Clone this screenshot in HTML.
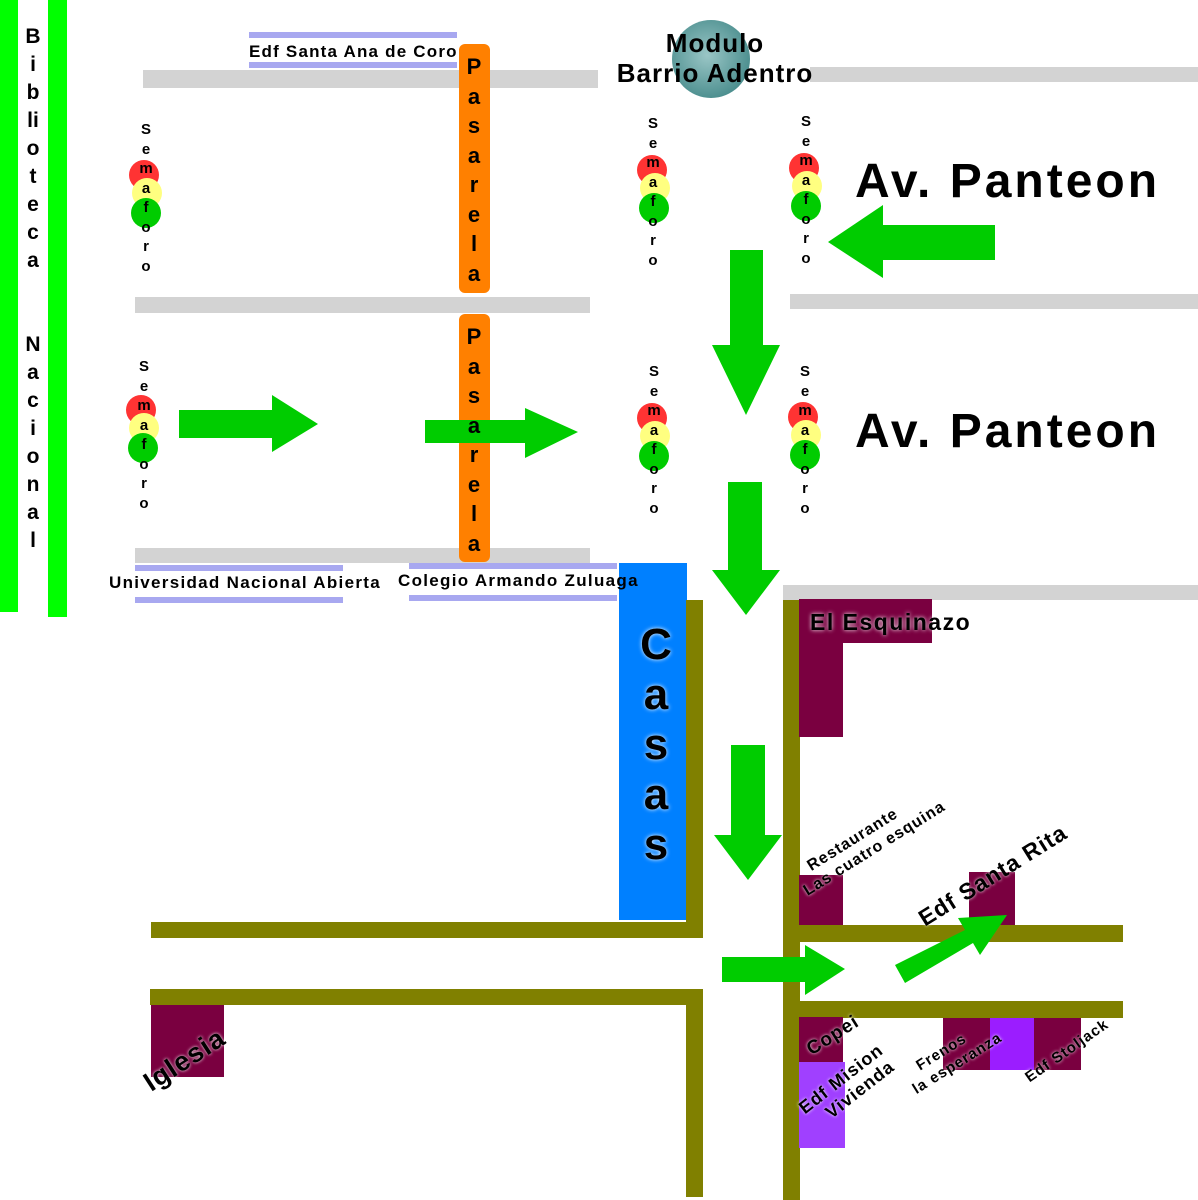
<!DOCTYPE html>
<html><head><meta charset="utf-8"><style>
body{margin:0;width:1198px;height:1200px;background:#fff;position:relative;overflow:hidden;font-family:"Liberation Sans",sans-serif;font-weight:bold;color:#000}
.r{position:absolute}
.g{background:#d3d3d3}
.o{background:#808000}
.m{background:#7a0040}
.p{background:#9b1dff}
.l{background:#a8a8f0}
.t{position:absolute;white-space:nowrap}
.v{position:absolute;text-align:center;font-size:21px;line-height:28px;width:20px}
.sem{position:absolute;width:20px;text-align:center;font-size:15px;line-height:19.5px}
.c{position:absolute;border-radius:50%;width:30px;height:30px}
</style></head><body>
<div class="r" style="left:0;top:0;width:18px;height:612px;background:#00ff00"></div>
<div class="r" style="left:48px;top:0;width:19px;height:617px;background:#00ff00"></div>
<div class="v" style="left:23px;top:23px">B<br>i<br>b<br>li<br>o<br>t<br>e<br>c<br>a</div>
<div class="v" style="left:23px;top:331px">N<br>a<br>c<br>i<br>o<br>n<br>a<br>l</div>
<div class="r g" style="left:143px;top:70px;width:455px;height:18px"></div>
<div class="r g" style="left:810px;top:67px;width:388px;height:15px"></div>
<div class="r g" style="left:135px;top:297px;width:455px;height:16px"></div>
<div class="r g" style="left:790px;top:294px;width:408px;height:15px"></div>
<div class="r g" style="left:135px;top:548px;width:455px;height:15px"></div>
<div class="r g" style="left:783px;top:585px;width:415px;height:15px"></div>
<div class="r l" style="left:249px;top:32px;width:208px;height:6px"></div>
<div class="r l" style="left:249px;top:62px;width:208px;height:6px"></div>
<div class="t" style="left:249px;top:42px;font-size:17px;letter-spacing:1.2px">Edf Santa Ana de Coro</div>
<div class="r l" style="left:135px;top:565px;width:208px;height:6px"></div>
<div class="r l" style="left:135px;top:597px;width:208px;height:6px"></div>
<div class="t" style="left:109px;top:573px;font-size:17px;letter-spacing:1.3px">Universidad Nacional Abierta</div>
<div class="r l" style="left:409px;top:563px;width:208px;height:6px"></div>
<div class="r l" style="left:409px;top:595px;width:208px;height:6px"></div>
<div class="r" style="left:459px;top:44px;width:31px;height:249px;background:#ff8000;border-radius:6px"></div>
<div class="v" style="left:464px;top:52px;font-size:22px;line-height:29.5px">P<br>a<br>s<br>a<br>r<br>e<br>l<br>a</div>
<div class="r" style="left:459px;top:314px;width:31px;height:248px;background:#ff8000;border-radius:6px"></div>
<div class="r" style="left:619px;top:563px;width:68px;height:357px;background:#0080ff"></div>
<div class="t" style="left:398px;top:571px;font-size:17px;letter-spacing:1.3px">Colegio Armando Zuluaga</div>
<div class="v" style="left:636px;top:620px;width:40px;font-size:44px;line-height:50px;color:#000;text-shadow:0 0 4px #fff">C<br>a<br>s<br>a<br>s</div>
<div class="r" style="left:672px;top:20px;width:78px;height:78px;border-radius:50%;background:radial-gradient(circle at 45% 45%,#9ac6c6,#2f7a7a)"></div>
<div class="t" style="left:600px;top:28px;width:230px;text-align:center;font-size:26px;line-height:30px;letter-spacing:1px">Modulo<br>Barrio Adentro</div>
<div class="r o" style="left:686px;top:600px;width:17px;height:338px"></div>
<div class="r o" style="left:151px;top:922px;width:552px;height:16px"></div>
<div class="r o" style="left:150px;top:989px;width:553px;height:16px"></div>
<div class="r o" style="left:686px;top:989px;width:17px;height:208px"></div>
<div class="r o" style="left:783px;top:600px;width:17px;height:600px"></div>
<div class="r o" style="left:783px;top:925px;width:340px;height:17px"></div>
<div class="r o" style="left:783px;top:1001px;width:340px;height:17px"></div>
<div class="r m" style="left:799px;top:599px;width:133px;height:44px"></div>
<div class="r m" style="left:799px;top:599px;width:44px;height:138px"></div>
<div class="r m" style="left:799px;top:875px;width:44px;height:50px"></div>
<div class="r m" style="left:969px;top:872px;width:46px;height:53px"></div>
<div class="r m" style="left:799px;top:1017px;width:44px;height:45px"></div>
<div class="r p" style="left:799px;top:1062px;width:46px;height:86px;background:#a040ff"></div>
<div class="r m" style="left:943px;top:1018px;width:47px;height:52px"></div>
<div class="r p" style="left:990px;top:1018px;width:44px;height:52px"></div>
<div class="r m" style="left:1034px;top:1018px;width:47px;height:52px"></div>
<div class="r m" style="left:151px;top:1005px;width:73px;height:72px"></div>
<div class="t" style="left:810px;top:609px;font-size:23px;letter-spacing:1.5px;text-shadow:0 0 4px #fff">El Esquinazo</div>
<div class="t" style="left:790px;top:868px;font-size:16px;line-height:19px;letter-spacing:1px;transform:rotate(-32deg);transform-origin:left top;text-shadow:0 0 3px #fff">&nbsp;&nbsp;&nbsp;Restaurante<br>Las cuatro esquina</div>
<div class="t" style="left:928px;top:905px;font-size:23px;letter-spacing:1px;transform:rotate(-32deg);transform-origin:left bottom;text-shadow:0 0 3px #fff">Edf Santa Rita</div>
<div class="t" style="left:803px;top:1042px;font-size:19px;letter-spacing:1px;transform:rotate(-32deg);transform-origin:left top;text-shadow:0 0 3px #fff">Copei</div>
<div class="t" style="left:795px;top:1102px;font-size:18px;line-height:20px;letter-spacing:1px;transform:rotate(-38deg);transform-origin:left top;text-shadow:0 0 3px #fff">Edf Mision<br>&nbsp;&nbsp;&nbsp;Vivienda</div>
<div class="t" style="left:900px;top:1068px;font-size:15px;line-height:18px;letter-spacing:1px;transform:rotate(-32deg);transform-origin:left top;text-shadow:0 0 3px #fff">&nbsp;&nbsp;&nbsp;Frenos<br>la esperanza</div>
<div class="t" style="left:1022px;top:1072px;font-size:15px;letter-spacing:1px;transform:rotate(-35deg);transform-origin:left top;text-shadow:0 0 3px #fff">Edf Stoljack</div>
<div class="t" style="left:138px;top:1072px;font-size:27px;letter-spacing:1px;transform:rotate(-33deg);transform-origin:left top;text-shadow:0 0 3px #fff">Iglesia</div>
<div class="t" style="left:855px;top:154px;font-size:48px;letter-spacing:3px">Av. Panteon</div>
<div class="t" style="left:855px;top:404px;font-size:48px;letter-spacing:3px">Av. Panteon</div>
<div class="c" style="left:129px;top:160px;background:#f33"></div><div class="c" style="left:132px;top:178px;background:#ffff80"></div><div class="c" style="left:131px;top:198px;background:#0c0"></div>
<div class="sem" style="left:136px;top:120px">S<br>e<br>m<br>a<br>f<br>o<br>r<br>o</div>
<div class="c" style="left:126px;top:395px;background:#f33"></div><div class="c" style="left:129px;top:413px;background:#ffff80"></div><div class="c" style="left:128px;top:433px;background:#0c0"></div>
<div class="sem" style="left:134px;top:357px">S<br>e<br>m<br>a<br>f<br>o<br>r<br>o</div>
<div class="c" style="left:637px;top:155px;background:#f33"></div><div class="c" style="left:640px;top:173px;background:#ffff80"></div><div class="c" style="left:639px;top:193px;background:#0c0"></div>
<div class="sem" style="left:643px;top:114px">S<br>e<br>m<br>a<br>f<br>o<br>r<br>o</div>
<div class="c" style="left:789px;top:153px;background:#f33"></div><div class="c" style="left:792px;top:171px;background:#ffff80"></div><div class="c" style="left:791px;top:191px;background:#0c0"></div>
<div class="sem" style="left:796px;top:112px">S<br>e<br>m<br>a<br>f<br>o<br>r<br>o</div>
<div class="c" style="left:637px;top:403px;background:#f33"></div><div class="c" style="left:640px;top:421px;background:#ffff80"></div><div class="c" style="left:639px;top:441px;background:#0c0"></div>
<div class="sem" style="left:644px;top:362px">S<br>e<br>m<br>a<br>f<br>o<br>r<br>o</div>
<div class="c" style="left:788px;top:402px;background:#f33"></div><div class="c" style="left:791px;top:420px;background:#ffff80"></div><div class="c" style="left:790px;top:440px;background:#0c0"></div>
<div class="sem" style="left:795px;top:362px">S<br>e<br>m<br>a<br>f<br>o<br>r<br>o</div>
<svg class="r" style="left:0;top:0" width="1198" height="1200">
<g fill="#00cc00">
<polygon points="995,225 883,225 883,205 828,242 883,278 883,260 995,260"/>
<polygon points="730,250 763,250 763,345 780,345 746,415 712,345 730,345"/>
<polygon points="728,482 762,482 762,570 780,570 746,615 712,570 728,570"/>
<polygon points="731,745 765,745 765,835 782,835 748,880 714,835 731,835"/>
<polygon points="179,410 272,410 272,395 318,424 272,452 272,438 179,438"/>
<polygon points="425,420 525,420 525,408 578,432 525,458 525,443 425,443"/>
<polygon points="722,957 805,957 805,945 845,969 805,995 805,982 722,982"/>
<polygon points="895,965 965,930 958,918 1007,915 980,955 973,943 905,983"/>
</g>
</svg>
<div class="v" style="left:464px;top:322px;font-size:22px;line-height:29.5px">P<br>a<br>s<br>a<br>r<br>e<br>l<br>a</div>
</body></html>
